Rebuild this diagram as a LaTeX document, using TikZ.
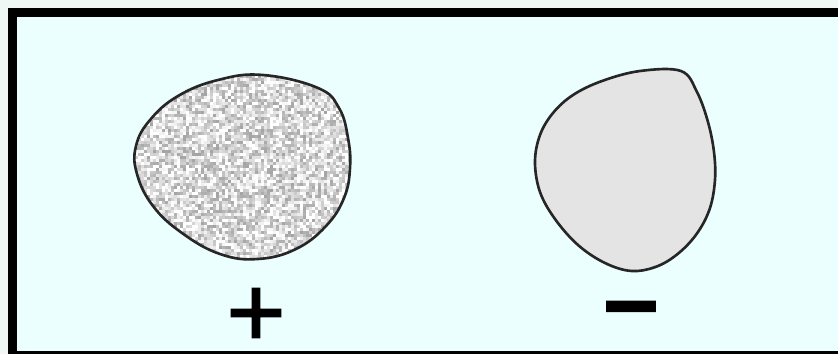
\documentclass[tikz,border=0pt]{standalone}
\usepackage{fontspec}
\newfontfamily\plusfont[FakeBold=3]{DejaVu Sans}
\newfontfamily\minusfont[FakeBold=8]{DejaVu Sans}
\definecolor{panelcyan}{HTML}{EAFFFE}
\definecolor{marginpale}{HTML}{F0F8F6}
\definecolor{blobgray}{HTML}{E4E4E4}
\tikzset{
  blobline/.style={draw=black!85, line width=0.75pt},
  signtext/.style={inner sep=0pt, text=black},
  leftblob/.style={insert path={plot[smooth cycle, tension=0.7] coordinates {
    (263,75) (318,88) (339,108) (348,138) (350,168) (344,198) (326,226)
    (296,249) (258,259) (220,254) (182,233) (153,206) (137,174) (136,146)
    (150,120) (178,96) (218,80)}}},
  rightblob/.style={insert path={plot[smooth cycle, tension=0.6] coordinates {
    (640,71) (681,71) (697,92) (708,122) (714,152) (715,180) (710,208)
    (698,232) (680,252) (658,266) (632,271) (605,263) (578,245) (555,219)
    (540,192) (535,162) (540,135) (553,113) (573,95) (602,81)}}}
}
\begin{document}
\begin{tikzpicture}[x=0.01cm, y=-0.01cm]
  % page and frame
  \fill[marginpale] (0,0) rectangle (838,354);
  \useasboundingbox (0,0) rectangle (838,354);
  \begin{scope}
    \clip (0,0) rectangle (838,354);
    \draw[fill=panelcyan, line width=2.56pt] (12.5,12.5) rectangle (870,355.5);
  \end{scope}
  % speckled blob
  \pgfmathsetseed{11}
  \begin{scope}
    \clip[leftblob];
    \foreach \sx in {132,135,...,354}{
      \foreach \sy in {72,75,...,264}{
        \pgfmathsetmacro\sg{max(0,rnd*42-6)}
        \fill[black!\sg] (\sx,\sy) rectangle ++(3.2,3.2);
      }
    }
  \end{scope}
  \draw[blobline, leftblob];
  % plain blob
  \draw[blobline, fill=blobgray, rightblob];
  % signs
  \node[signtext, font=\plusfont\fontsize{22}{22}\selectfont] (plus) at (256,313) {+};
  \node[signtext, font=\minusfont\fontsize{20}{20}\selectfont] (minus) at (631,316) {−};
\end{tikzpicture}
\end{document}
